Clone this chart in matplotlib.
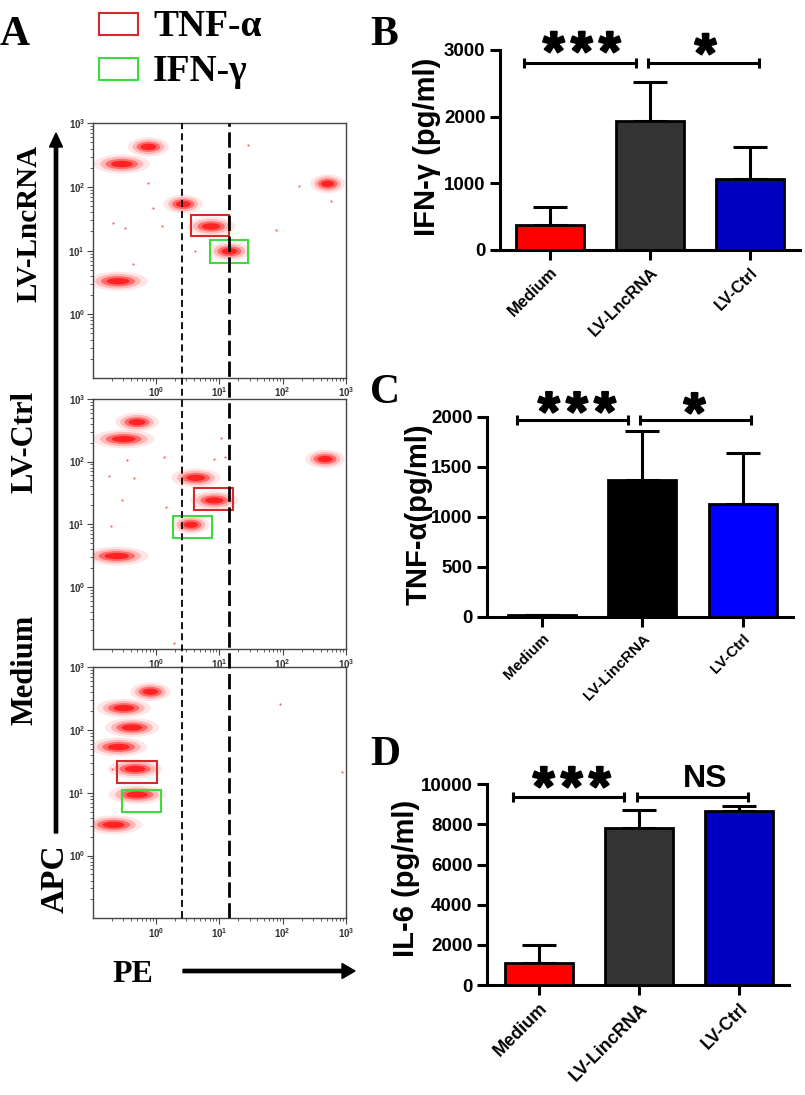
import numpy as np
import matplotlib.pyplot as plt
import matplotlib.patheffects as pe_fx
from matplotlib.patches import Ellipse, Rectangle

plt.rcParams['font.family'] = ['Liberation Sans', 'DejaVu Sans']
plt.rcParams['font.weight'] = 'bold'
plt.rcParams['mathtext.fontset'] = 'custom'
plt.rcParams['mathtext.rm'] = 'Liberation Sans'
plt.rcParams['mathtext.default'] = 'rm'
plt.rcParams['lines.scale_dashes'] = False
SERIF = ['Liberation Serif', 'DejaVu Serif']

# ---- flow panels (log10 PE / log10 APC), one entry per cell cluster ----
lnc_pe = [-0.12, -0.54, 0.43, 0.87, 1.16, -0.60, 2.71]
lnc_apc = [2.63, 2.36, 1.73, 1.38, 0.99, 0.52, 2.05]
lnc_w = [0.50, 0.68, 0.47, 0.58, 0.50, 0.72, 0.42]
lnc_stray_pe = [1.45, 0.61, 1.90, -0.36, -0.12, -0.68, -0.49, -0.05, 0.09, 2.26, 2.76]
lnc_stray_apc = [2.66, 0.99, 1.33, 0.79, 2.07, 1.44, 1.36, 1.67, 1.38, 2.02, 1.78]
lnc_tnf_box = [0.55, 1.15, 1.23, 1.56]
lnc_ifn_box = [0.85, 1.46, 0.81, 1.16]

ctrl_pe = [-0.30, -0.51, 0.63, 0.92, 0.55, 2.67, -0.62]
ctrl_apc = [2.63, 2.36, 1.74, 1.38, 0.99, 2.04, 0.49]
ctrl_w = [0.53, 0.75, 0.60, 0.58, 0.45, 0.48, 0.77]
ctrl_stray_pe = [1.02, 0.12, -0.46, -0.75, -0.35, -0.54, 0.15, -0.71, 0.92, 1.09, 0.28]
ctrl_stray_apc = [2.38, 2.07, 2.03, 1.77, 1.74, 1.38, 1.28, 0.97, 2.04, 2.07, -0.90]
ctrl_tnf_box = [0.60, 1.22, 1.22, 1.57]
ctrl_ifn_box = [0.27, 0.88, 0.78, 1.13]

med_pe = [-0.09, -0.51, -0.38, -0.59, -0.33, -0.30, -0.67]
med_apc = [2.61, 2.35, 2.04, 1.73, 1.38, 0.97, 0.49]
med_w = [0.49, 0.66, 0.66, 0.69, 0.66, 0.69, 0.70]
med_stray_pe = [1.96, 2.93, -0.75, -0.70]
med_stray_apc = [2.41, 1.33, 1.72, 1.38]
med_tnf_box = [-0.61, 0.01, 1.16, 1.51]
med_ifn_box = [-0.54, 0.08, 0.70, 1.05]

gate_low = 0.415   # log10(2.6)
gate_high = 1.15   # log10(14.1)

# ---- ELISA bar panels ----
groups_b = ['Medium', 'LV-LncRNA', 'LV-Ctrl']
groups_cd = ['Medium', 'LV-LincRNA', 'LV-Ctrl']
ifn_mean = [380, 1935, 1060]
ifn_sd = [265, 590, 480]
tnf_mean = [15, 1365, 1125]
tnf_sd = [0, 495, 515]
il6_mean = [1100, 7830, 8680]
il6_sd = [880, 890, 240]

W, H = 805, 1095
fig = plt.figure(figsize=(W / 100, H / 100), dpi=100)


def px_axes(l, t, r, b):
    return fig.add_axes([l / W, 1 - b / H, (r - l) / W, (b - t) / H])


# full-figure layer in pixel units for labels and arrows
bg = fig.add_axes([0, 0, 1, 1])
bg.set_xlim(0, W)
bg.set_ylim(H, 0)
bg.axis('off')

bg.text(0, 45, 'A', fontsize=30, fontweight='bold', family=SERIF)
bg.text(370, 45, 'B', fontsize=30, fontweight='bold', family=SERIF)
bg.text(370, 403, 'C', fontsize=30, fontweight='bold', family=SERIF)
bg.text(370, 765, 'D', fontsize=30, fontweight='bold', family=SERIF)

bg.add_patch(Rectangle((99, 13), 39, 22, fill=False, ec='#d42a2a', lw=1.5))
bg.add_patch(Rectangle((99, 58), 39, 22, fill=False, ec='#3ddc3d', lw=1.5))
bg.text(153, 36, 'TNF-α', fontsize=27, fontweight='bold', family=SERIF)
bg.text(153, 81, 'IFN-γ', fontsize=27, fontweight='bold', family=SERIF)

bg.text(29, 223, 'LV-LncRNA', rotation=90, ha='center', va='center',
        fontsize=21, fontweight='bold', family=SERIF)
bg.text(25, 442, 'LV-Ctrl', rotation=90, ha='center', va='center',
        fontsize=22, fontweight='bold', family=SERIF)
bg.text(25, 670, 'Medium', rotation=90, ha='center', va='center',
        fontsize=22, fontweight='bold', family=SERIF)
bg.text(55, 879, 'APC', rotation=90, ha='center', va='center',
        fontsize=24, fontweight='bold', family=SERIF)
bg.text(133, 975, 'PE', ha='center', va='center',
        fontsize=23, fontweight='bold', family=SERIF)

bg.arrow(56, 833, 0, -700, width=3.3, head_width=13, head_length=14,
         length_includes_head=True, color='black')
bg.arrow(183, 971, 172, 0, width=3.3, head_width=15, head_length=13,
         length_includes_head=True, color='black')

bg.text(427, 147, 'IFN-γ (pg/ml)', rotation=90, ha='center', va='center', fontsize=21)
bg.text(419, 514, 'TNF-α(pg/ml)', rotation=90, ha='center', va='center', fontsize=21)
bg.text(406, 878, 'IL-6 (pg/ml)', rotation=90, ha='center', va='center', fontsize=21)


def flow_panel(ax, pe, apc, widths, spe, sapc, tnf_box, ifn_box):
    ax.set_xlim(-1, 3)
    ax.set_ylim(-1, 3)
    for cx, cy, cw in zip(pe, apc, widths):
        for sw, sh, a in [(1.3, 0.30, 0.10), (1.0, 0.23, 0.22), (0.75, 0.16, 0.45), (0.5, 0.10, 0.8)]:
            ax.add_patch(Ellipse((cx, cy), cw * sw, sh, color='#ff1010', alpha=a, lw=0))
    ax.scatter(spe, sapc, s=2.5, color='#ff2020', alpha=0.7, lw=0)
    for box, col in [(tnf_box, '#d42a2a'), (ifn_box, '#3ddc3d')]:
        ax.add_patch(Rectangle((box[0], box[2]), box[1] - box[0], box[3] - box[2],
                               fill=False, ec=col, lw=1.5))
    major = [0, 1, 2, 3]
    minor = [d + np.log10(k) for d in range(-1, 3) for k in range(2, 10)]
    labs = [r'$10^{%d}$' % m for m in major]
    ax.set_xticks(major)
    ax.set_xticks(minor, minor=True)
    ax.set_yticks(major)
    ax.set_yticks(minor, minor=True)
    ax.set_xticklabels(labs)
    ax.set_yticklabels(labs)
    ax.tick_params(which='major', direction='out', length=4, width=0.8,
                   colors='#444444', labelsize=7, pad=1.5)
    ax.tick_params(which='minor', direction='out', length=2, width=0.6, colors='#444444')
    for lab in ax.get_xticklabels() + ax.get_yticklabels():
        lab.set_color('#333333')
    for s in ax.spines.values():
        s.set_color('#444444')
        s.set_linewidth(1.0)


ax1 = px_axes(92.7, 123.3, 346, 378)
flow_panel(ax1, lnc_pe, lnc_apc, lnc_w, lnc_stray_pe, lnc_stray_apc, lnc_tnf_box, lnc_ifn_box)
ax2 = px_axes(92.7, 399, 346, 649.3)
flow_panel(ax2, ctrl_pe, ctrl_apc, ctrl_w, ctrl_stray_pe, ctrl_stray_apc, ctrl_tnf_box, ctrl_ifn_box)
ax3 = px_axes(92.7, 667.3, 346, 918.3)
flow_panel(ax3, med_pe, med_apc, med_w, med_stray_pe, med_stray_apc, med_tnf_box, med_ifn_box)

ov = px_axes(92.7, 123.3, 346, 918.3)
ov.set_xlim(-1, 3)
ov.axis('off')
l1 = ov.axvline(gate_low, color='black', lw=1.3)
l1.set_dashes((5, 3))
l2 = ov.axvline(gate_high, color='black', lw=2.0)
l2.set_dashes((11, 4))


def bar_panel(ax, means, sds, colors, labels, yticks, xlim, xlab_size):
    x = np.arange(3)
    ax.errorbar(x, means, yerr=[np.zeros(3), sds], fmt='none', ecolor='black',
                elinewidth=2.2, capsize=12, capthick=2.2, zorder=2)
    ax.bar(x, means, width=0.68, color=colors, edgecolor='black', linewidth=2, zorder=3)
    ax.set_xlim(xlim)
    ax.set_ylim(0, yticks[-1])
    ax.set_yticks(yticks)
    ax.set_xticks(x)
    ax.set_xticklabels(labels, rotation=45, ha='right', va='top',
                       rotation_mode='anchor', fontsize=xlab_size)
    ax.tick_params(axis='y', labelsize=13.5)
    ax.tick_params(direction='out', length=7, width=2.2)
    ax.spines['top'].set_visible(False)
    ax.spines['right'].set_visible(False)
    ax.spines['left'].set_linewidth(2.2)
    ax.spines['bottom'].set_linewidth(2.2)
    ax.patch.set_alpha(0)


def bracket(ax, x0, x1, y, cap):
    kw = dict(color='black', lw=2.2, clip_on=False, solid_capstyle='butt')
    ax.plot([x0, x1], [y, y], **kw)
    ax.plot([x0, x0], [y - cap, y + cap], **kw)
    ax.plot([x1, x1], [y - cap, y + cap], **kw)


def stars(ax, x, y, n):
    # one glyph per star, 0.28 bar-spacings apart
    for i in range(n):
        t = ax.text(x + (i - (n - 1) / 2) * 0.28, y, '*', ha='center', va='baseline',
                    fontsize=40, clip_on=False)
        t.set_path_effects([pe_fx.withStroke(linewidth=1.5, foreground='black')])


axB = px_axes(500, 50, 800, 250)
bar_panel(axB, ifn_mean, ifn_sd, ['#ff0000', '#333333', '#0000c0'], groups_b,
          [0, 1000, 2000, 3000], (-0.5, 2.5), 12)
bracket(axB, -0.257, 0.857, 2800, 75)
bracket(axB, 0.977, 2.09, 2800, 75)
stars(axB, 0.317, 2700, 3)
stars(axB, 1.555, 2670, 1)

axC = px_axes(487.3, 416.7, 792.7, 616.7)
bar_panel(axC, tnf_mean, tnf_sd, ['#ff0000', '#000000', '#0000ff'], groups_cd,
          [0, 500, 1000, 1500, 2000], (-0.547, 2.5), 11)
bracket(axC, -0.253, 0.857, 1967, 50)
bracket(axC, 0.98, 2.087, 1967, 50)
stars(axC, 0.347, 1865, 3)
stars(axC, 1.52, 1855, 1)

axD = px_axes(487.3, 784.3, 789.3, 985)
bar_panel(axD, il6_mean, il6_sd, ['#ff0000', '#333333', '#0000c0'], groups_cd,
          [0, 2000, 4000, 6000, 8000, 10000], (-0.517, 2.503), 13)
bracket(axD, -0.257, 0.853, 9352, 250)
bracket(axD, 0.977, 2.087, 9352, 250)
stars(axD, 0.327, 8965, 3)
axD.text(1.66, 9850, 'NS', ha='center', va='baseline', fontsize=23, clip_on=False)

fig.savefig('out.png', dpi=100)
